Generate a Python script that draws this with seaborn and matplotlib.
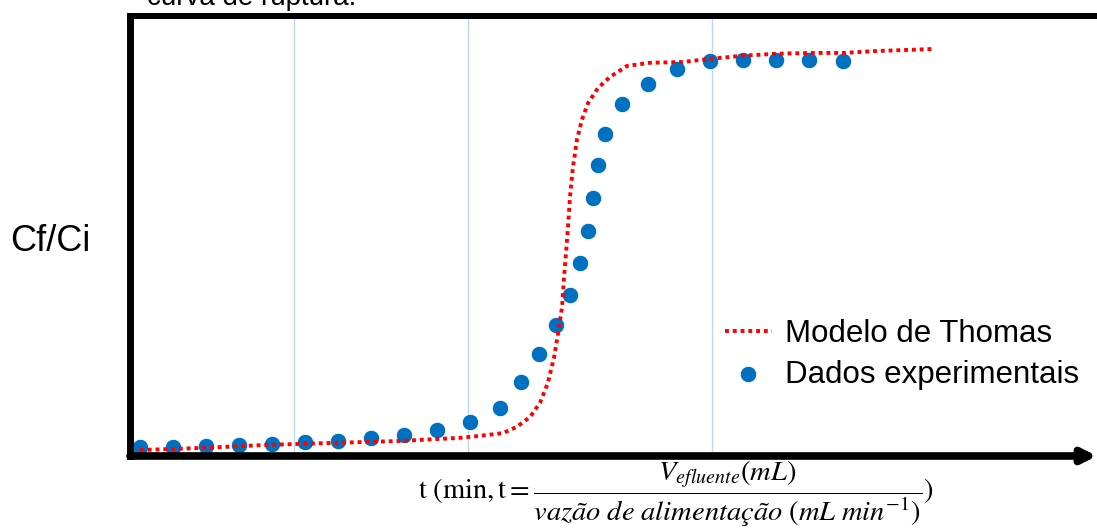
import numpy as np
import pandas as pd
from matplotlib import pyplot as plt
import seaborn as sns

# experimental breakthrough points (t, Cf/Ci)
t_exp = [0, 10, 20, 30, 40, 50, 60, 70, 80, 90, 100, 109, 115.5, 121, 126, 130.3,
         133.3, 135.8, 137.3, 138.8, 140.9, 146.1, 153.9, 162.7, 172.7, 182.7,
         192.7, 202.7, 213]
c_exp = [0.013, 0.013, 0.015, 0.018, 0.02, 0.025, 0.028, 0.036, 0.043, 0.056, 0.076,
         0.111, 0.177, 0.248, 0.324, 0.4, 0.481, 0.562, 0.646, 0.729, 0.81, 0.884,
         0.937, 0.975, 0.995, 0.997, 0.997, 0.997, 0.995]

# Thomas model curve
t_mod = [0, 18.2, 38.5, 58.5, 78.8, 97, 103, 110, 114.2, 118.2, 121.2, 123.6, 125.5,
         126.7, 127.9, 128.5, 129.1, 129.7, 130.3, 131.2, 132.4, 133.9, 135.8, 138.8,
         142.4, 147.6, 154.5, 164.5, 172.7, 182.7, 193, 203, 213, 223.3, 240.3]
c_mod = [0.005, 0.01, 0.018, 0.023, 0.028, 0.036, 0.041, 0.048, 0.064, 0.089, 0.125,
         0.176, 0.242, 0.303, 0.369, 0.445, 0.506, 0.573, 0.649, 0.725, 0.794, 0.845,
         0.888, 0.926, 0.954, 0.982, 0.99, 0.992, 1.0, 1.008, 1.013, 1.015, 1.015,
         1.02, 1.025]

grid_t = [46.7, 99.4, 173.3]

sns.set_style('white')
plt.rcParams['font.family'] = ['Liberation Sans', 'DejaVu Sans']
plt.rcParams['mathtext.fontset'] = 'stix'
plt.rcParams['text.color'] = 'black'

fig = plt.figure(figsize=(10.97, 5.28), dpi=100)
ax = fig.add_axes([0.1185, 0.1364, 0.8815, 0.8333])

for g in grid_t:
    ax.axvline(g, color='#BDD7EE', lw=1, zorder=0)

mod = pd.DataFrame({'t': t_mod, 'c': c_mod})
exp = pd.DataFrame({'t': t_exp, 'c': c_exp})
sns.lineplot(data=mod, x='t', y='c', ax=ax, color='#FF0000', lw=2.8,
             dashes=False, label='Modelo de Thomas', zorder=3)
ax.lines[-1].set_dashes((1, 1))
sns.scatterplot(data=exp, x='t', y='c', ax=ax, color='#0070C0', s=140,
                edgecolor='white', linewidth=0.6, label='Dados experimentais', zorder=2)

ax.set_xlim(-3.03, 290)
ax.set_ylim(-0.0102, 1.109)
ax.set_xticks([])
ax.set_yticks([])
ax.set_xlabel('')
ax.set_ylabel('')

ax.spines['right'].set_visible(False)
ax.spines['bottom'].set_visible(False)
ax.spines['left'].set_linewidth(5)
ax.spines['top'].set_linewidth(4.3)
for s in ['left', 'top']:
    ax.spines[s].set_color('black')
ax.annotate('', xy=(1.0, 0), xytext=(0, 0), xycoords='axes fraction',
            arrowprops=dict(arrowstyle='-|>', lw=5.5, color='black',
                            mutation_scale=20, shrinkA=0, shrinkB=0),
            annotation_clip=False)

leg = ax.legend(loc='center left', bbox_to_anchor=(0.615, 0.2307), frameon=False,
                fontsize=22.5, handlelength=1.5, handletextpad=0.43,
                borderpad=0, borderaxespad=0, labelspacing=0.33)
for txt in leg.get_texts():
    txt.set_color('black')

fig.text(10 / 1097, 1 - 242 / 528, 'Cf/Ci', fontsize=26, ha='left', va='center')
fig.text(147 / 1097, 1 - 5 / 528, 'curva de ruptura.', fontsize=20, ha='left',
         va='baseline')
fig.text(676 / 1097, 1 - 494 / 528,
         r'$\mathrm{t\ (min, t} = \dfrac{V_{efluente}(mL)}{vazão\ de\ alimentação\ (mL\ min^{-1})})$',
         fontsize=20.5, ha='center', va='center')

fig.savefig('out.png', dpi=100)
